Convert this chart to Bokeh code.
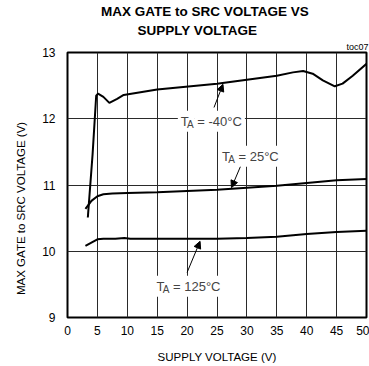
from bokeh.plotting import figure
from bokeh.models import Range1d, FixedTicker, Label, Arrow, NormalHead, Title
from bokeh.embed import file_html
from bokeh.resources import INLINE

# ---- data ----
supply_m40 = [3.4, 4.2, 4.8, 5.1, 6.0, 7.0, 8.3, 9.4, 15.0, 25.0, 30.0, 35.0, 37.7, 39.4, 41.0, 42.7, 44.7, 46.0, 47.7, 50.0]
gate_m40 = [10.51, 11.47, 12.35, 12.38, 12.33, 12.24, 12.30, 12.36, 12.44, 12.53, 12.59, 12.65, 12.70, 12.72, 12.68, 12.58, 12.49, 12.53, 12.65, 12.83]

supply_25 = [3.0, 4.0, 5.0, 6.0, 7.5, 10.0, 15.0, 20.0, 25.0, 30.0, 35.0, 40.0, 45.0, 50.0]
gate_25 = [10.64, 10.76, 10.83, 10.86, 10.87, 10.88, 10.89, 10.91, 10.93, 10.96, 10.99, 11.03, 11.07, 11.09]

supply_125 = [3.0, 4.0, 5.0, 6.0, 8.0, 9.5, 10.5, 15.0, 20.0, 25.0, 30.0, 35.0, 40.0, 45.0, 50.0]
gate_125 = [10.08, 10.13, 10.18, 10.19, 10.19, 10.20, 10.19, 10.19, 10.19, 10.19, 10.20, 10.22, 10.26, 10.29, 10.31]

x_ticks = [0, 5, 10, 15, 20, 25, 30, 35, 40, 45, 50]
y_ticks = [9, 10, 11, 12, 13]

title_lines = ["MAX GATE to SRC VOLTAGE VS", "SUPPLY VOLTAGE"]
x_title = "SUPPLY VOLTAGE (V)"
y_title = "MAX GATE to SRC VOLTAGE (V)"
curve_labels = ["= -40\u00b0C", "= 25\u00b0C", "= 125\u00b0C"]
label_x = [18.45, 25.33, 14.38]
label_y = [11.963, 11.435, 9.472]
arrow_x0 = [24.5, 29.42, 20.0]
arrow_y0 = [12.17, 11.385, 9.68]
arrow_x1 = [26.0, 27.42, 22.17]
arrow_y1 = [12.52, 10.96, 10.15]

FONT = "Liberation Sans"

p = figure(width=369, height=366, x_range=Range1d(0, 50), y_range=Range1d(9, 13),
           output_backend="svg", toolbar_location=None,
           min_border_left=66, min_border_right=3, min_border_top=52, min_border_bottom=49)
p.title.visible = False
p.background_fill_color = "white"
p.border_fill_color = "white"
p.outline_line_color = "black"
p.outline_line_width = 2

for ax in (p.xaxis, p.yaxis):
    ax.major_tick_line_color = None
    ax.minor_tick_line_color = None
    ax.major_tick_out = 0
    ax.major_tick_in = 0
    ax.minor_tick_out = 0
    ax.minor_tick_in = 0
    ax.axis_line_color = None
    ax.major_label_text_font = FONT
    ax.major_label_text_font_size = "12px"
    ax.major_label_text_color = "black"
p.xaxis.ticker = FixedTicker(ticks=x_ticks)
p.yaxis.ticker = FixedTicker(ticks=y_ticks)
p.xaxis.major_label_standoff = 8
p.yaxis.major_label_standoff = 12
p.xaxis.axis_label = x_title
p.xaxis.axis_label_text_font = FONT
p.xaxis.axis_label_text_font_size = "11.5px"
p.xaxis.axis_label_text_font_style = "normal"
p.xaxis.axis_label_text_color = "black"
p.xaxis.axis_label_standoff = 13

p.xgrid.ticker = FixedTicker(ticks=x_ticks)
p.ygrid.ticker = FixedTicker(ticks=y_ticks)
for g in (p.xgrid, p.ygrid):
    g.grid_line_color = "#2a2a2a"
    g.grid_line_width = 1

for xs, ys in ((supply_m40, gate_m40), (supply_25, gate_25), (supply_125, gate_125)):
    p.line(xs, ys, line_color="black", line_width=2)

for x0, y0, x1, y1 in zip(arrow_x0, arrow_y0, arrow_x1, arrow_y1):
    p.add_layout(Arrow(x_start=x0, y_start=y0, x_end=x1, y_end=y1, line_width=1, line_color="black",
                       end=NormalHead(size=7, fill_color="black", line_color="black")))

for lx, ly, txt in zip(label_x, label_y, curve_labels):
    p.add_layout(Label(x=lx, y=ly, text="T", text_font=FONT, text_font_size="13px",
                       text_baseline="alphabetic", text_align="left",
                       background_fill_color="white", padding=3))
    p.add_layout(Label(x=lx, y=ly, x_offset=16.5, text=txt, text_font=FONT, text_font_size="13px",
                       text_baseline="alphabetic", text_align="left",
                       background_fill_color="white", padding=3))
    p.add_layout(Label(x=lx, y=ly, x_offset=8.2, y_offset=-3.3, text="A", text_font=FONT,
                       text_font_size="10px", text_baseline="alphabetic", text_align="left",
                       background_fill_color="white", padding=1))

def mk_title(text, size, style, align, offset, standoff):
    t = Title(text=text, text_font=FONT, text_font_size=size, text_font_style=style,
              align=align, offset=offset, text_color="black")
    try:
        t.standoff = standoff
    except Exception:
        pass
    return t

# titles above (first added is nearest the frame)
p.add_layout(mk_title("toc07", "9px", "normal", "right", -2, 2), "above")
p.add_layout(mk_title(title_lines[1], "13.5px", "bold", "left", 70, 2), "above")
p.add_layout(mk_title(title_lines[0], "13.5px", "bold", "left", 33.6, 2), "above")
# y axis title on the left
p.add_layout(mk_title(y_title, "11.5px", "normal", "left", 22.5, 25), "left")

open("out.html", "w").write(file_html(p, INLINE))
